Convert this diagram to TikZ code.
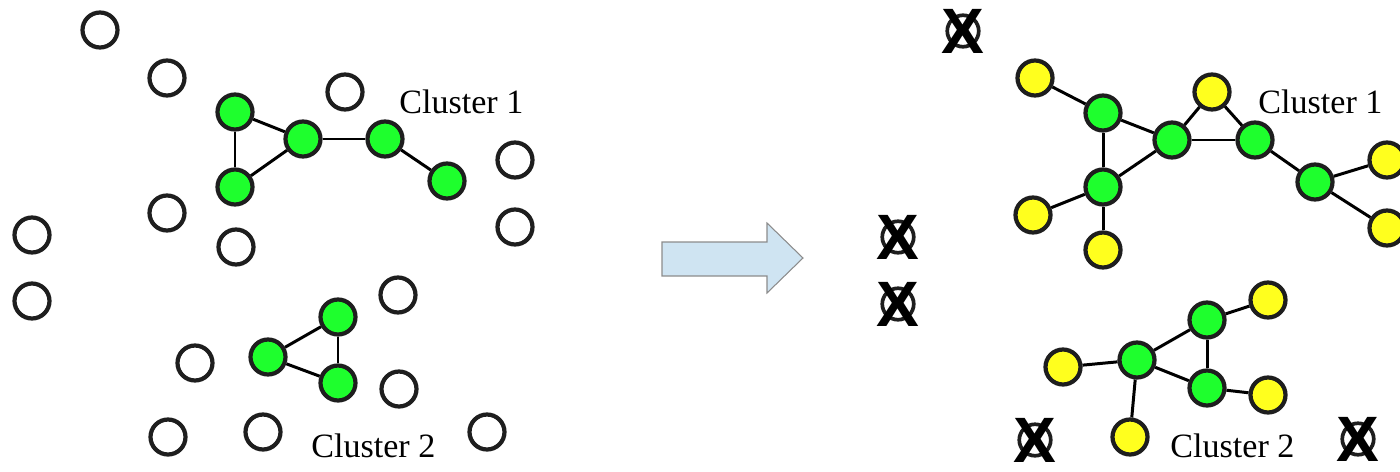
\documentclass[tikz,border=0pt]{standalone}
\usepackage{fontspec}
\setmainfont{Liberation Serif}
\newfontfamily\markfont{Liberation Sans}
\definecolor{seedgreen}{RGB}{30,255,45}
\definecolor{hopyellow}{RGB}{255,255,30}
\definecolor{rimgray}{RGB}{30,30,30}
\definecolor{arrowblue}{RGB}{207,228,242}
\definecolor{arrowrim}{RGB}{140,140,140}
\begin{document}
\begin{tikzpicture}[x=0.2mm,y=-0.2mm,
    vertex/.style={circle,draw=rimgray,line width=2.4pt,minimum size=7mm,inner sep=0pt},
    plain/.style={vertex,fill=white},
    seed/.style={vertex,fill=seedgreen},
    member/.style={vertex,fill=hopyellow},
    dropped/.style={vertex,line width=2.1pt,minimum size=6.3mm},
    crossed/.style={inner sep=0pt,font=\markfont\bfseries\fontsize{36.5}{40}\selectfont},
    edgeline/.style={draw=black,line width=1.7pt},
    clname/.style={font=\fontsize{19.4}{23}\selectfont,inner sep=0pt,anchor=base west}]
\useasboundingbox (0,0) rectangle (1400,471);
% before: isolated nodes
\node[plain] (p1) at (100,30) {}; % p1
\node[plain] (p2) at (167,78) {}; % p2
\node[plain] (p3) at (345,92) {}; % p3
\node[plain] (p4) at (515,160) {}; % p4
\node[plain] (p5) at (167,213) {}; % p5
\node[plain] (p6) at (32,235) {}; % p6
\node[plain] (p7) at (236,247) {}; % p7
\node[plain] (p8) at (515,227) {}; % p8
\node[plain] (p9) at (32,301) {}; % p9
\node[plain] (p10) at (398,295) {}; % p10
\node[plain] (p11) at (195,363) {}; % p11
\node[plain] (p12) at (399,389) {}; % p12
\node[plain] (p13) at (168,437) {}; % p13
\node[plain] (p14) at (263,432) {}; % p14
\node[plain] (p15) at (487,432) {}; % p15
% before: cluster 1
\node[seed] (a1) at (235,112) {}; % a1
\node[seed] (a2) at (235,187) {}; % a2
\node[seed] (a3) at (303,139) {}; % a3
\node[seed] (a4) at (385,139) {}; % a4
\node[seed] (a5) at (447,181) {}; % a5
\draw[edgeline] (a1) -- (a2);
\draw[edgeline] (a1) -- (a3);
\draw[edgeline] (a2) -- (a3);
\draw[edgeline] (a3) -- (a4);
\draw[edgeline] (a4) -- (a5);
\node[clname] (c1a) at (399,113) {Cluster 1}; % c1a
% before: cluster 2
\node[seed] (b1) at (268,357) {}; % b1
\node[seed] (b2) at (338,317) {}; % b2
\node[seed] (b3) at (338,383) {}; % b3
\draw[edgeline] (b1) -- (b2);
\draw[edgeline] (b1) -- (b3);
\draw[edgeline] (b2) -- (b3);
\node[clname] (c2a) at (311,457) {Cluster 2}; % c2a

% block arrow
\draw[draw=arrowrim,fill=arrowblue,line width=0.6pt] (662,242) -- (767,242) -- (767,223) -- (803,258) -- (767,293) -- (767,276) -- (662,276) -- cycle;

% after: removed nodes
\foreach \n/\x/\y in {r1/963/31, r2/898/237, r3/898/304, r4/1035/440, r5/1358/439} {
  \node[dropped] (\n) at (\x,\y) {};
  \node[crossed] (\n x) at (\x,\y) {X};
}
% after: cluster 1
\node[seed] (g1) at (1103,113) {}; % g1
\node[seed] (g2) at (1103,187) {}; % g2
\node[seed] (g3) at (1172,140) {}; % g3
\node[seed] (g4) at (1255,140) {}; % g4
\node[seed] (g5) at (1315,182) {}; % g5
\node[member] (y1) at (1035,78) {}; % y1
\node[member] (y2) at (1212,92) {}; % y2
\node[member] (y3) at (1387,160) {}; % y3
\node[member] (y4) at (1387,228) {}; % y4
\node[member] (y5) at (1033,215) {}; % y5
\node[member] (y6) at (1103,250) {}; % y6
\draw[edgeline] (y1) -- (g1);
\draw[edgeline] (g1) -- (g2);
\draw[edgeline] (g1) -- (g3);
\draw[edgeline] (g2) -- (g3);
\draw[edgeline] (g3) -- (y2);
\draw[edgeline] (y2) -- (g4);
\draw[edgeline] (g3) -- (g4);
\draw[edgeline] (g4) -- (g5);
\draw[edgeline] (g5) -- (y3);
\draw[edgeline] (g5) -- (y4);
\draw[edgeline] (g2) -- (y5);
\draw[edgeline] (g2) -- (y6);
\node[clname] (c1b) at (1258,113) {Cluster 1}; % c1b
% after: cluster 2
\node[seed] (h1) at (1137,360) {}; % h1
\node[seed] (h2) at (1207,320) {}; % h2
\node[seed] (h3) at (1207,388) {}; % h3
\node[member] (z1) at (1063,367) {}; % z1
\node[member] (z2) at (1268,300) {}; % z2
\node[member] (z3) at (1268,395) {}; % z3
\node[member] (z4) at (1130,437) {}; % z4
\draw[edgeline] (h1) -- (h2);
\draw[edgeline] (h1) -- (h3);
\draw[edgeline] (h2) -- (h3);
\draw[edgeline] (h2) -- (z2);
\draw[edgeline] (h3) -- (z3);
\draw[edgeline] (h1) -- (z1);
\draw[edgeline] (h1) -- (z4);
\node[clname] (c2b) at (1170,457) {Cluster 2}; % c2b
\end{tikzpicture}
\end{document}
